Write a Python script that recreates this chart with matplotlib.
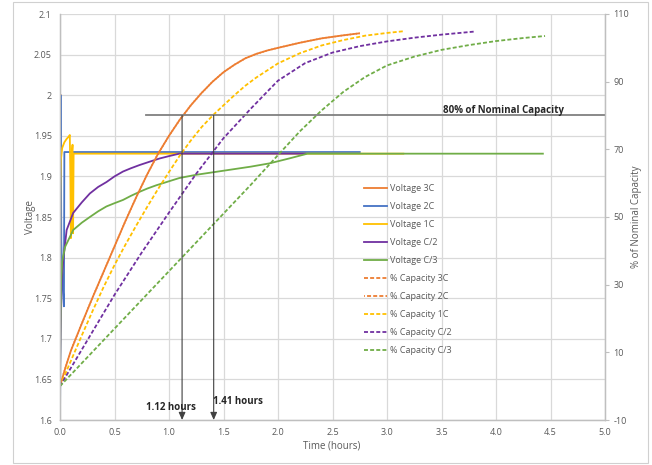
import matplotlib
matplotlib.use("Agg")
import matplotlib.pyplot as plt
from matplotlib.patches import Rectangle

plt.rcParams['font.family'] = ['Open Sans', 'DejaVu Sans']

# ---------------- data ----------------
# Voltage curves (left axis)
v3c_t = [0.0, 0.003, 0.006]
v3c_v = [1.67, 1.85, 2.00]

v2c_t = [0.0, 0.002, 0.006, 0.012, 0.022, 0.032, 0.036, 0.040, 0.5, 1.0, 1.5, 2.0, 2.5, 2.75]
v2c_v = [1.60, 1.645, 2.00, 1.82, 1.77, 1.75, 1.74, 1.930, 1.930, 1.930, 1.930, 1.930, 1.930, 1.930]

v1c_t = [0.0, 0.003, 0.008, 0.02, 0.04, 0.06, 0.08, 0.09, 0.095, 0.100, 0.105, 0.110, 0.115, 0.120, 0.125,
         0.5, 1.0, 1.5, 2.0, 2.5, 3.0, 3.15]
v1c_v = [1.77, 1.88, 1.92, 1.935, 1.942, 1.946, 1.949, 1.951, 1.90, 1.824, 1.90, 1.930, 1.939, 1.83, 1.928,
         1.928, 1.928, 1.928, 1.928, 1.928, 1.928, 1.928]

vc2_t = [0.0, 0.005, 0.015, 0.03, 0.061, 0.121, 0.2, 0.274, 0.35, 0.426, 0.5, 0.578, 0.65, 0.73, 0.82,
         0.912, 1.0, 1.095, 1.5, 2.0, 2.25]
vc2_v = [1.66, 1.70, 1.77, 1.797, 1.834, 1.855, 1.868, 1.879, 1.887, 1.893, 1.900, 1.906, 1.910, 1.914, 1.918,
         1.922, 1.925, 1.928, 1.928, 1.928, 1.928]

vc3_t = [0.0, 0.005, 0.01, 0.02, 0.046, 0.121, 0.2, 0.274, 0.35, 0.426, 0.5, 0.578, 0.65, 0.73, 0.8, 0.882,
         1.0, 1.095, 1.25, 1.5, 1.75, 1.92, 2.1, 2.27, 3.0, 4.0, 4.43]
vc3_v = [1.645, 1.72, 1.77, 1.795, 1.813, 1.834, 1.843, 1.850, 1.857, 1.863, 1.867, 1.871, 1.876, 1.881, 1.885,
         1.889, 1.894, 1.898, 1.902, 1.907, 1.912, 1.916, 1.922, 1.928, 1.928, 1.928, 1.928]

# % of nominal capacity curves (right axis)
cap3c_t = [0, 0.05, 0.1, 0.2, 0.3, 0.4, 0.5, 0.6, 0.7, 0.8, 0.9, 1.0, 1.1, 1.2, 1.3, 1.4, 1.5, 1.6, 1.7,
           1.8, 1.9, 2.0, 2.2, 2.4, 2.6, 2.75]
cap3c_p = [0, 5.5, 10.5, 18.5, 26.3, 33.8, 41.3, 48.8, 55.9, 62.6, 68.7, 74.0, 78.8, 83.0, 86.7, 90.0, 92.8,
           95.0, 96.9, 98.2, 99.2, 100.0, 101.5, 102.8, 103.7, 104.3]
cap2c_t = cap3c_t
cap2c_p = cap3c_p

cap1c_t = [0, 0.1, 0.2, 0.3, 0.4, 0.5, 0.6, 0.7, 0.8, 0.9, 1.0, 1.1, 1.2, 1.3, 1.41, 1.5, 1.6, 1.7, 1.8, 1.9,
           2.0, 2.2, 2.4, 2.6, 2.8, 3.0, 3.15]
cap1c_p = [0, 7.5, 15, 22.3, 29.3, 35.8, 41.8, 47.5, 53, 58.3, 63.3, 68.2, 72.6, 76.6, 80.3, 83, 86, 88.8,
           91.2, 93.3, 95.4, 98.4, 100.7, 102.3, 103.6, 104.4, 104.9]

capc2_t = [0, 0.25, 0.5, 0.75, 1.0, 1.25, 1.5, 1.75, 1.9, 2.0, 2.25, 2.5, 2.75, 3.0, 3.25, 3.5, 3.8]
capc2_p = [0, 13.5, 27, 39.5, 51.3, 62.8, 73.3, 82.0, 87.0, 90.3, 95.5, 98.6, 100.5, 101.9, 103.0, 103.9, 104.8]

capc3_t = [0, 0.5, 1.0, 1.5, 1.75, 2.0, 2.2, 2.4, 2.6, 2.8, 3.0, 3.25, 3.5, 3.75, 4.0, 4.25, 4.45]
capc3_p = [0, 17, 34, 51, 59.5, 68.3, 75.3, 81.5, 87.0, 91.4, 94.8, 97.4, 99.4, 100.8, 102.0, 102.9, 103.5]

target_pct = 80
target_span = [0.79, 5.0]
cross_times = [1.12, 1.41]
cross_labels = ["1.12 hours", "1.41 hours"]

x_ticks = [0.0, 0.5, 1.0, 1.5, 2.0, 2.5, 3.0, 3.5, 4.0, 4.5, 5.0]
v_ticks = [1.6, 1.65, 1.7, 1.75, 1.8, 1.85, 1.9, 1.95, 2.0, 2.05, 2.1]
p_ticks = [-10, 10, 30, 50, 70, 90, 110]

# ---------------- style ----------------
C_OR = '#ED7D31'
C_BL = '#4472C4'
C_YE = '#FFC000'
C_PU = '#7030A0'
C_GR = '#70AD47'
GRID = '#d9d9d9'
TXT = '#595959'

fig = plt.figure(figsize=(6.52, 4.65), dpi=100)
fig.patches.append(Rectangle((13 / 652, 2 / 465), 635 / 652, 461 / 465, transform=fig.transFigure,
                             fill=False, edgecolor='#d0d0d0', lw=0.8))
ax = fig.add_axes([60 / 652, 1 - 420 / 465, 545 / 652, 406 / 465])
ax2 = ax.twinx()

lw = 1.3
dash = (2.2, 1.2)

h = []
h += ax.plot(v3c_t, v3c_v, color=C_OR, lw=lw, label='Voltage 3C')
h += ax.plot(v2c_t, v2c_v, color=C_BL, lw=lw, label='Voltage 2C')
h += ax.plot(v1c_t, v1c_v, color=C_YE, lw=lw, label='Voltage 1C')
h += ax.plot(vc2_t, vc2_v, color=C_PU, lw=lw, label='Voltage C/2')
h += ax.plot(vc3_t, vc3_v, color=C_GR, lw=lw, label='Voltage C/3')

h += ax2.plot(cap3c_t, cap3c_p, color=C_OR, lw=lw, dashes=dash, label='% Capacity 3C')
l2, = ax2.plot(cap2c_t, cap2c_p, color=C_OR, lw=lw, label='% Capacity 2C')
l2.set_linestyle((1.7, dash))
h.append(l2)
h += ax2.plot(cap1c_t, cap1c_p, color=C_YE, lw=lw, dashes=dash, label='% Capacity 1C')
h += ax2.plot(capc2_t, capc2_p, color=C_PU, lw=lw, dashes=dash, label='% Capacity C/2')
h += ax2.plot(capc3_t, capc3_p, color=C_GR, lw=lw, dashes=dash, label='% Capacity C/3')

# 80 % line and crossing arrows
ax2.plot(target_span, [target_pct, target_pct], color='#808080', lw=1.3)
ax2.text(4.07, target_pct + 1.4, '80% of Nominal Capacity', ha='center', va='center',
         fontsize=7, fontweight='bold', color='#262626')
for tx, lab, ly, lx in zip(cross_times, cross_labels, [-6.4, -4.5], [1.02, 1.63]):
    ax2.annotate('', xy=(tx, -10), xytext=(tx, target_pct),
                 arrowprops=dict(arrowstyle='-|>,head_length=0.45,head_width=0.2', color='#404040',
                                 lw=0.8, shrinkA=0, shrinkB=0))
    ax2.text(lx, ly, lab, ha='center', va='center', fontsize=7, fontweight='bold', color='#262626')

# axes
ax.set_xlim(0, 5)
ax.set_ylim(1.6, 2.1)
ax2.set_ylim(-10, 110)
ax.set_xticks(x_ticks)
ax.set_xticklabels([f"{x:.1f}" for x in x_ticks])
ax.set_yticks(v_ticks)
ax.set_yticklabels([f"{v:g}" for v in v_ticks])
ax2.set_yticks(p_ticks)
ax2.set_yticklabels([str(p) for p in p_ticks])
ax.grid(True, color=GRID, lw=0.9)
ax.set_axisbelow(True)
ax.tick_params(axis='both', length=0, labelsize=6.5, labelcolor=TXT, pad=6)
ax2.tick_params(axis='y', length=3, color='#bfbfbf', labelsize=6.5, labelcolor=TXT, pad=3)
for sp in ['top']:
    ax.spines[sp].set_visible(False)
    ax2.spines[sp].set_visible(False)
for a in (ax, ax2):
    for sp in ['left', 'bottom', 'right']:
        a.spines[sp].set_color('#bfbfbf')
        a.spines[sp].set_linewidth(0.9)

ax.set_ylabel('Voltage', fontsize=7, color=TXT, va='center')
ax.yaxis.set_label_coords((30 - 60) / 545, 0.5)
ax.set_xlabel('Time (hours)', fontsize=7, color=TXT, va='center')
ax.xaxis.set_label_coords((332 - 60) / 545, -(446 - 420) / 406)
ax2.set_ylabel('% of Nominal Capacity', fontsize=7, color=TXT, va='center')
ax2.yaxis.set_label_coords((637 - 60) / 545, 0.5)

leg = ax.legend(handles=h, loc='upper left', bbox_to_anchor=(364 / 652, 1 - 184 / 465),
                bbox_transform=fig.transFigure, frameon=False, fontsize=6.5,
                handlelength=2.6, handletextpad=0.3, labelspacing=1.0, borderpad=0, borderaxespad=0)
for t in leg.get_texts():
    t.set_color(TXT)

fig.savefig('out.png', dpi=100)
